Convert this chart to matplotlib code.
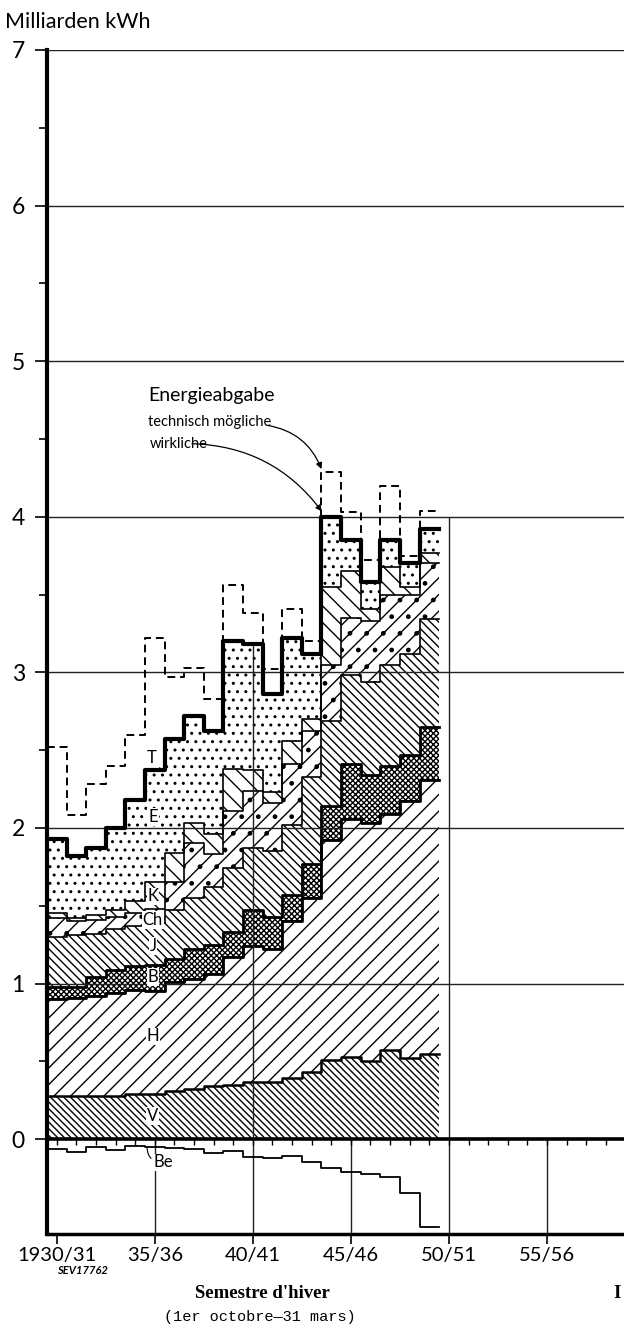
import matplotlib.pyplot as plt
import numpy as np

# winter half-years 1930/31 ... 1949/50, values in Milliarden kWh
years = np.arange(1930, 1950)

# upper edge of each stacked layer (cumulative)
v_top = [0.28, 0.28, 0.28, 0.28, 0.29, 0.29, 0.31, 0.32, 0.34, 0.35,
         0.37, 0.37, 0.39, 0.43, 0.51, 0.53, 0.50, 0.57, 0.52, 0.55]
h_top = [0.90, 0.91, 0.92, 0.94, 0.96, 0.95, 1.01, 1.03, 1.06, 1.17,
         1.24, 1.22, 1.40, 1.55, 1.92, 2.06, 2.03, 2.09, 2.17, 2.31]
b_top = [0.98, 0.98, 1.04, 1.09, 1.11, 1.12, 1.16, 1.22, 1.25, 1.33,
         1.47, 1.43, 1.57, 1.77, 2.14, 2.41, 2.34, 2.40, 2.47, 2.65]
j_top = [1.30, 1.31, 1.32, 1.35, 1.37, 1.39, 1.47, 1.55, 1.62, 1.74,
         1.87, 1.85, 2.02, 2.33, 2.69, 2.98, 2.94, 3.05, 3.12, 3.34]
ch_top = [1.42, 1.40, 1.41, 1.43, 1.45, 1.48, 1.65, 1.90, 1.83, 2.11,
          2.24, 2.16, 2.41, 2.62, 3.05, 3.35, 3.33, 3.50, 3.50, 3.70]
k_top = [1.45, 1.42, 1.44, 1.47, 1.53, 1.65, 1.84, 2.03, 1.96, 2.38,
         2.37, 2.23, 2.56, 2.70, 3.55, 3.65, 3.41, 3.68, 3.55, 3.77]
# wirkliche Energieabgabe (top of E)
total = [1.93, 1.82, 1.87, 2.00, 2.18, 2.37, 2.57, 2.72, 2.62, 3.20,
         3.18, 2.86, 3.22, 3.12, 4.00, 3.85, 3.58, 3.85, 3.70, 3.92]
# technisch mögliche Energieabgabe
possible = [2.52, 2.08, 2.28, 2.40, 2.60, 3.22, 2.97, 3.03, 2.83, 3.56,
            3.38, 3.02, 3.41, 3.20, 4.29, 4.03, 3.72, 4.20, 3.75, 4.04]
# Be, drawn below the zero line
be = [-0.066, -0.081, -0.049, -0.071, -0.045, -0.049, -0.060, -0.066, -0.092, -0.075,
      -0.114, -0.120, -0.109, -0.146, -0.189, -0.210, -0.227, -0.246, -0.349, -0.568]

tick_years = [1930, 1935, 1940, 1945, 1950, 1955]
tick_labels = ['1930/31', '35/36', '40/41', '45/46', '50/51', '55/56']

plt.rcParams['hatch.linewidth'] = 1.0
SANS = ['Lato', 'DejaVu Sans']
SERIF = ['Liberation Serif', 'DejaVu Serif']

fig = plt.figure(figsize=(6.24, 13.29), dpi=100)
ax = fig.add_axes([47 / 624, 95 / 1329, 1 - 47 / 624, 1184 / 1329])
ymin = -0.61
ax.set_xlim(1929.5, 1958.93)
ax.set_ylim(ymin, 7)

xe = np.append(years - 0.5, years[-1] + 0.5)


def ext(a):
    a = np.asarray(a, dtype=float)
    return np.append(a, a[-1])


zero = np.zeros(len(years))
layers = [
    (zero, v_top, '\\\\\\\\\\', 1.8),
    (v_top, h_top, '//', 1.3),
    (h_top, b_top, 'xxxxxx', 2.0),
    (b_top, j_top, '\\\\\\\\', 1.2),
    (j_top, ch_top, '//.', 1.2),
    (ch_top, k_top, '\\\\', 1.2),
    (k_top, total, '..', 1.2),
]
for lo, hi, hatch, lw in layers:
    ax.fill_between(xe, ext(lo), ext(hi), step='post', facecolor='white',
                    edgecolor='black', hatch=hatch, linewidth=0, zorder=2)
for lo, hi, hatch, lw in layers[:-1]:
    ax.step(xe, ext(hi), where='post', color='black', lw=lw, zorder=3)
ax.step(xe, ext(h_top), where='post', color='black', lw=2.0, zorder=3)

ax.step(xe, ext(total), where='post', color='black', lw=3.0, zorder=6)
ax.step(xe, ext(possible), where='post', color='black', lw=1.4,
        dashes=(4, 2.5), zorder=6)
ax.step(xe, ext(be), where='post', color='black', lw=1.3, zorder=6)

# grid
for y in range(1, 8):
    ax.axhline(y, color='#222222', lw=1.0, zorder=4)
ax.axhline(0, color='black', lw=2.6, zorder=7)
ax.vlines(tick_years[1:], ymin, 0, color='#222222', lw=1.0, zorder=4)
ax.vlines(1940, 0, total[10], color='#222222', lw=1.0, zorder=4)
ax.vlines(1950, 0, 4.0, color='#222222', lw=1.0, zorder=4)
# small year ticks under the zero line
ax.vlines(np.arange(1930, 1959), -0.035, 0, color='black', lw=1.0, zorder=7)

for s in ('top', 'right'):
    ax.spines[s].set_visible(False)
ax.spines['left'].set_linewidth(3.0)
ax.spines['bottom'].set_linewidth(2.5)
ax.spines['left'].set_zorder(8)

ax.set_yticks(range(8))
ax.set_yticks(np.arange(0.5, 7, 1.0), minor=True)
ax.set_yticklabels([str(i) for i in range(8)], family=SANS, fontsize=16.5)
ax.tick_params(axis='y', which='major', length=9, width=1.2, pad=7)
ax.tick_params(axis='y', which='minor', length=6, width=1.2)
ax.set_xticks(tick_years)
ax.set_xticklabels(tick_labels, family=SANS, fontsize=14.5)
ax.tick_params(axis='x', length=7, width=1.2, pad=2)

fig.text(5 / 624, 1 - 22 / 1329, 'Milliarden kWh', family=SANS, fontsize=15.5,
         va='center', ha='left')

# layer letters
box = dict(facecolor='white', edgecolor='none', pad=0.6)
for lab, yv in [('E', 2.07), ('K', 1.56), ('Ch', 1.41), ('J', 1.24),
                ('B', 1.04), ('H', 0.66), ('V', 0.15)]:
    ax.text(1934.9, yv, lab, family=SANS, fontsize=12, ha='center',
            va='center', bbox=box, zorder=9)
ax.annotate('T', xy=(1935.35, 2.37), xytext=(1934.85, 2.45), family=SANS,
            fontsize=12, ha='center', va='center', zorder=9,
            arrowprops=dict(arrowstyle='-', lw=0.8, shrinkA=0, shrinkB=0))
ax.annotate('Be', xy=(1934.6, -0.05), xytext=(1935.45, -0.15), family=SANS,
            fontsize=12, ha='center', va='center', zorder=9,
            bbox=dict(facecolor='white', edgecolor='none', pad=0.5),
            arrowprops=dict(arrowstyle='-', lw=0.8, shrinkA=2, shrinkB=0,
                            connectionstyle='arc3,rad=-0.5'))

# Energieabgabe legend with curved pointers
ax.text(1934.65, 4.78, 'Energieabgabe', family=SANS, fontsize=14,
        ha='left', va='center', zorder=9)
ax.text(1934.65, 4.61, 'technisch mögliche', family=SANS, fontsize=10.5,
        ha='left', va='center', zorder=9)
ax.text(1934.75, 4.47, 'wirkliche', family=SANS, fontsize=10.5,
        ha='left', va='center', zorder=9)
ax.annotate('', xy=(1943.55, 4.29), xytext=(1940.6, 4.59),
            arrowprops=dict(arrowstyle='-|>', lw=0.9, color='black',
                            mutation_scale=9,
                            connectionstyle='arc3,rad=-0.3'))
ax.annotate('', xy=(1943.6, 4.02), xytext=(1936.75, 4.47),
            arrowprops=dict(arrowstyle='-|>', lw=0.9, color='black',
                            mutation_scale=9,
                            connectionstyle='arc3,rad=-0.25'))

fig.text(57 / 624, 1 - 1271 / 1329, 'SEV17762', fontsize=8, style='italic',
         weight='bold', ha='left', va='center', family=SANS)
fig.text(262 / 624, 1 - 1294 / 1329, "Semestre d'hiver", fontsize=13.5,
         weight='bold', family=SERIF, ha='center', va='center')
fig.text(260 / 624, 1 - 1317 / 1329, '(1er octobre—31 mars)', fontsize=11,
         family=['Liberation Mono', 'DejaVu Sans Mono'], ha='center', va='center')
fig.text(613 / 624, 1 - 1294 / 1329, 'I', fontsize=13.5, weight='bold',
         family=SERIF, ha='left', va='center')

fig.savefig('out.png', dpi=100)
